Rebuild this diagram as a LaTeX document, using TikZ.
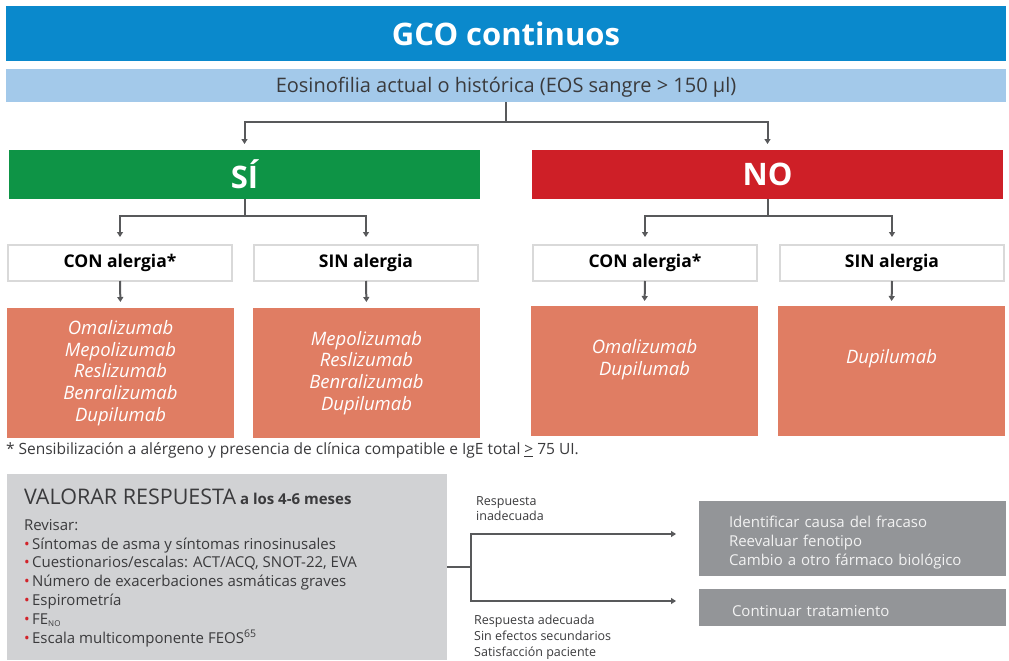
\documentclass[tikz,border=0pt]{standalone}
\usepackage{fontspec}
\setmainfont{Open Sans}
\usetikzlibrary{arrows.meta}
\definecolor{titleblue}{HTML}{0A89CC}
\definecolor{lightblue}{HTML}{A3C9EA}
\definecolor{sigreen}{HTML}{0E9446}
\definecolor{nored}{HTML}{CE1F27}
\definecolor{drugorange}{HTML}{E07D63}
\definecolor{boxborder}{HTML}{D9D9D9}
\definecolor{conncol}{HTML}{58595B}
\definecolor{valgray}{HTML}{D1D2D4}
\definecolor{resgray}{HTML}{939598}
\definecolor{textdark}{HTML}{3A3A3C}
\definecolor{bulletred}{HTML}{D2232A}
\tikzset{
  base/.style={anchor=north west, inner sep=0pt, outer sep=0pt},
  bar/.style={base, text=white, font=\fontsize{31}{34}\selectfont\bfseries},
  allergy/.style={base, fill=white, draw=boxborder, line width=2pt, text=black,
     minimum width=224pt, minimum height=36pt, font=\fontsize{17.5}{20}\selectfont\bfseries},
  drug/.style={base, fill=drugorange, text=white, minimum width=227pt, minimum height=130pt,
     align=center, font=\fontsize{18.5}{21.8}\selectfont\itshape},
  conn/.style={draw=conncol, line width=2pt, -{Triangle[length=5pt,width=6pt]}},
  plain/.style={draw=conncol, line width=2pt},
  small/.style={inner sep=0pt, anchor=north west, align=left, text=textdark,
     font=\fontsize{12.5}{15.8}\selectfont},
  res/.style={base, fill=resgray, text=white!95!black, minimum width=307pt,
     font=\fontsize{15}{19}\selectfont}
}
\newcommand{\rb}{{\color{bulletred}\textbullet}\,}
\newcommand{\lowerby}[2]{\raisebox{0pt}[\dimexpr\height+#1\relax]{#2}}
\begin{document}
\begin{tikzpicture}[x=1pt,y=-1pt]
\useasboundingbox (0,0) rectangle (1009,661);
% top bars
\node[bar, fill=titleblue, minimum width=1000pt, minimum height=55pt] (title) at (6,6) {GCO continuos};
\node[base, fill=lightblue, minimum width=1000pt, minimum height=33pt, text=textdark,
      font=\fontsize{20}{22}\selectfont, text depth=1pt] (eos) at (6,69) {Eosinofilia actual o histórica (EOS sangre > 150 µl)};
% SI / NO
\node[bar, fill=sigreen, minimum width=471pt, minimum height=49pt] (si) at (9,150) {SÍ};
\node[bar, fill=nored, minimum width=471pt, minimum height=49pt] (no) at (532,150) {NO};
\draw[conn, shorten >=6pt] (eos.south) -- ++(0,20) -| (si.north);
\draw[conn, shorten >=6pt] (eos.south) -- ++(0,20) -| (no.north);
% allergy boxes
\node[allergy] (sicon) at (8,245) {CON alergia*};
\node[allergy] (sisin) at (254,245) {SIN alergia};
\node[allergy] (nocon) at (533,245) {CON alergia*};
\node[allergy] (nosin) at (780,245) {SIN alergia};
\draw[conn, shorten >=8pt] (si.south) -- ++(0,17) -| (sicon.north);
\draw[conn, shorten >=8pt] (si.south) -- ++(0,17) -| (sisin.north);
\draw[conn, shorten >=8pt] (no.south) -- ++(0,17) -| (nocon.north);
\draw[conn, shorten >=8pt] (no.south) -- ++(0,17) -| (nosin.north);
% drug boxes
\node[drug] (d1) at (7,308) {Omalizumab\\Mepolizumab\\Reslizumab\\Benralizumab\\Dupilumab};
\node[drug] (d2) at (253,308) {Mepolizumab\\Reslizumab\\Benralizumab\\Dupilumab};
\node[drug] (d3) at (531,306) {Omalizumab\\Dupilumab\\[6pt]};
\node[drug] (d4) at (778,306) {Dupilumab\\[8pt]};
\draw[conn, shorten >=6pt] (sicon.south) -- (d1.north);
\draw[conn, shorten >=6pt] (sisin.south) -- (d2.north);
\draw[conn, shorten >=5pt] (nocon.south) -- (d3.north);
\draw[conn, shorten >=5pt] (nosin.south) -- (d4.north);
% footnote
\node[base, text=textdark, font=\fontsize{15.5}{18}\selectfont] (foot) at (6,443)
  {* Sensibilización a alérgeno y presencia de clínica compatible e IgE total \underline{>} 75 UI.};
% valorar
\node[base, fill=valgray, minimum width=440pt, minimum height=186pt] (val) at (7,474) {};
\node[base, text=textdark, align=left, font=\fontsize{15}{18.8}\selectfont] (valtxt) at (24,489)
  {{\fontsize{21.5}{24}\selectfont VALORAR RESPUESTA} {\fontsize{15}{18}\selectfont\bfseries a los 4-6 meses}\\[7pt]
   Revisar:\\
   \rb Síntomas de asma y síntomas rinosinusales\\
   \rb Cuestionarios/escalas: ACT/ACQ, SNOT-22, EVA\\
   \rb Número de exacerbaciones asmáticas graves\\
   \rb Espirometría\\
   \rb FE\textsubscript{\fontsize{8}{9}\selectfont NO}\\
   \rb Escala multicomponente FEOS\textsuperscript{65}};
% result boxes
\node[res, minimum height=75pt, align=left, text width=277pt] (fail) at (699,501)
  {\hspace*{15pt}\lowerby{8pt}{\begin{tabular}{@{}l@{}}Identificar causa del fracaso\\Reevaluar fenotipo\\Cambio a otro fármaco biológico\end{tabular}}};
\node[res, minimum height=37pt, align=left, text width=277pt] (cont) at (699,589)
  {\hspace*{18pt}\lowerby{7pt}{Continuar tratamiento}};
\coordinate (split) at (471,567);
\coordinate (a1) at (676,534);
\coordinate (a2) at (676,601);
\draw[plain] (val.east) -- (split);
\draw[conn] (split) |- (a1);
\draw[conn] (split) |- (a2);
\node[small] (lab1) at (476,496) {Respuesta\\inadecuada};
\node[small] (lab2) at (474,615) {Respuesta adecuada\\Sin efectos secundarios\\Satisfacción paciente};
\end{tikzpicture}
\end{document}
